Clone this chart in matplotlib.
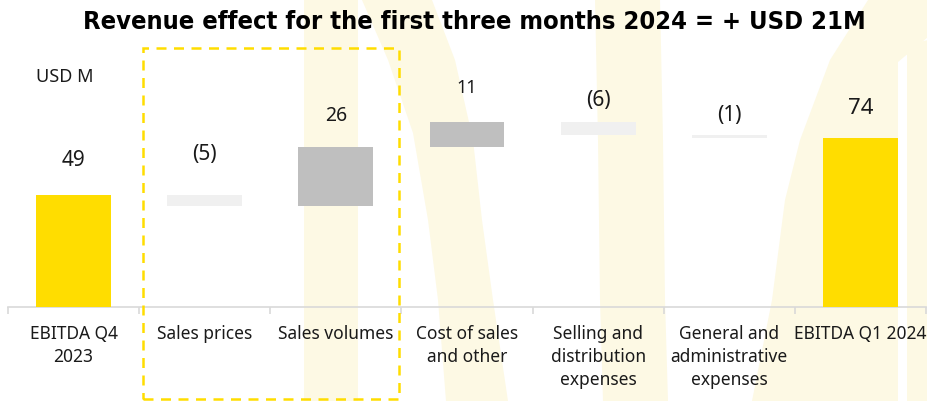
# -------------------------------
# 1. 必要なモジュールを読み込む
# -------------------------------

import matplotlib
matplotlib.use("Agg")
import matplotlib.pyplot as plt
from matplotlib.patches import Polygon, Rectangle
from matplotlib.ticker import FixedLocator

plt.rcParams['font.family'] = ['Noto Sans', 'DejaVu Sans']

# -------------------------------
# 2. データ（単位：USD M）
# -------------------------------

categories = [
    "EBITDA Q4\n2023",
    "Sales prices",
    "Sales volumes",
    "Cost of sales\nand other",
    "Selling and\ndistribution\nexpenses",
    "General and\nadministrative\nexpenses",
    "EBITDA Q1 2024",
]
values = [49, -5, 26, 11, -6, -1, 74]
is_total = [True, False, False, False, False, False, True]

title_text = "Revenue effect for the first three months 2024 = + USD 21M"
unit_text = "USD M"

# 色の設定
YELLOW = "#FFDD00"
GREY = "#BFBFBF"
LIGHT = "#F0F0F0"
WATER = "#FDF9E4"

# ラベルの位置調整（棒の上端からのずれ、ポイント）とサイズ
label_offset = [25, 29, 22, 24, 15, 14, 21]
label_size = [15, 15, 14, 13, 15, 15, 16]

# -------------------------------
# 3. 滝グラフの下端と高さを計算
# -------------------------------

bottoms = []
heights = []
colors = []
running = 0
for v, total in zip(values, is_total):
    if total:
        bottoms.append(0)
        heights.append(v)
        colors.append(YELLOW)
        running = v
    else:
        if v >= 0:
            bottoms.append(running)
            heights.append(v)
            colors.append(GREY)
        else:
            bottoms.append(running + v)
            heights.append(-v)
            colors.append(LIGHT)
        running += v

# -------------------------------
# 4. 図を作る
# -------------------------------

W, H = 928, 401
fig = plt.figure(figsize=(W / 100, H / 100), dpi=100)


def px(x, y):
    # ピクセル座標（左上原点）を図の座標に変換
    return (x / W, 1 - y / H)


# 背景のうすい黄色の模様（グラフより後ろに置く）
shapes = [
    [(304, 0), (358, 0), (358, 401), (304, 401)],
    [(362, 0), (388, 60), (413, 133), (428, 220), (438, 300), (446, 401),
     (508, 401), (493, 300), (482, 220), (473, 140), (455, 60), (432, 0)],
    [(595, 0), (660, 0), (663, 140), (665, 300), (668, 401), (603, 401), (600, 300), (598, 140)],
    [(868, 0), (928, 0), (928, 37), (898, 62), (898, 401), (752, 401),
     (772, 300), (785, 200), (800, 140), (830, 60)],
    [(907, 45), (928, 40), (928, 401), (907, 401)],
]
for s in shapes:
    fig.patches.append(Polygon([px(x, y) for x, y in s], closed=True,
                               transform=fig.transFigure, facecolor=WATER,
                               edgecolor="none", zorder=-5))

ax = fig.add_axes([8 / W, (H - 307) / H, 918 / W, 267 / H])
ax.patch.set_alpha(0)
ax.set_zorder(1)

x = list(range(len(categories)))
ax.bar(x, heights, bottom=bottoms, width=0.57, color=colors, zorder=3)

# 値ラベル（マイナスはカッコ書き）
for i, v in enumerate(values):
    txt = f"({-v})" if v < 0 else f"{v}"
    top = bottoms[i] + heights[i]
    ax.annotate(txt, (i, top), xytext=(0, label_offset[i]), textcoords="offset points",
                ha="center", va="center", fontsize=label_size[i], color="#1a1a1a")

ax.set_xlim(-0.5, len(categories) - 0.5)
ax.set_ylim(0, 267 / 2.29)

# 軸の見た目
for side in ["top", "right", "left"]:
    ax.spines[side].set_visible(False)
ax.spines["bottom"].set_color("#D9D9D9")
ax.spines["bottom"].set_linewidth(1.2)
ax.set_yticks([])

ax.set_xticks(x)
ax.set_xticklabels(categories, fontsize=12.5, linespacing=1.35, color="#1a1a1a")
ax.tick_params(axis="x", which="major", length=0, pad=13)
ax.xaxis.set_minor_locator(FixedLocator([i - 0.5 for i in range(len(categories) + 1)]))
ax.tick_params(axis="x", which="minor", length=5, color="#D9D9D9", width=1.2)

# タイトルと単位
fig.text(474 / W, 1 - 22 / H, title_text, ha="center", va="center",
         fontsize=18.3, fontweight="bold", fontstretch="condensed",
         family=['Liberation Sans Narrow', 'DejaVu Sans'])
fig.text(65 / W, 1 - 77 / H, unit_text, ha="center", va="center", fontsize=13, color="#1a1a1a")

# 価格と数量をかこむ点線の枠
x0, y0 = px(143, 399)
x1, y1 = px(399, 48)
fig.patches.append(Rectangle((x0, y0), x1 - x0, y1 - y0, transform=fig.transFigure,
                             fill=False, edgecolor=YELLOW, linewidth=1.8,
                             linestyle=(0, (4, 3)), zorder=5))

fig.savefig("out.png", dpi=100)
